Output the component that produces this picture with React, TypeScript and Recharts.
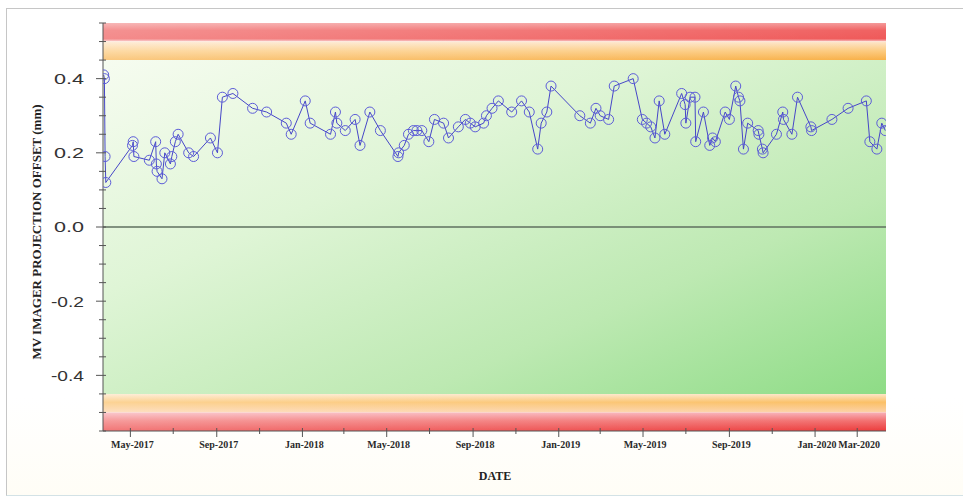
import React from 'react';
import {
  ComposedChart, Line, XAxis, YAxis, ReferenceArea, ReferenceLine,
} from 'recharts';

// ---- data ----
const dates: string[] = [
  '2017-03-24', '2017-03-25', '2017-03-26', '2017-03-27', '2017-05-04', '2017-05-05', '2017-05-06',
  '2017-05-28', '2017-06-06', '2017-06-07', '2017-06-08', '2017-06-15', '2017-06-19', '2017-06-27',
  '2017-06-29', '2017-07-04', '2017-07-08', '2017-07-23', '2017-07-30', '2017-08-23', '2017-09-02',
  '2017-09-09', '2017-09-24', '2017-10-22', '2017-11-11', '2017-12-09', '2017-12-16', '2018-01-05',
  '2018-01-12', '2018-02-10', '2018-02-17', '2018-02-19', '2018-03-03', '2018-03-17', '2018-03-24',
  '2018-04-07', '2018-04-22', '2018-05-17', '2018-05-18', '2018-05-26', '2018-06-01', '2018-06-08',
  '2018-06-13', '2018-06-20', '2018-06-30', '2018-07-08', '2018-07-21', '2018-07-28', '2018-08-11',
  '2018-08-21', '2018-08-28', '2018-09-04', '2018-09-16', '2018-09-20', '2018-09-28', '2018-10-07',
  '2018-10-26', '2018-11-09', '2018-11-20', '2018-12-02', '2018-12-07', '2018-12-15', '2018-12-21',
  '2019-01-31', '2019-02-15', '2019-02-23', '2019-03-01', '2019-03-13', '2019-03-21', '2019-04-17',
  '2019-04-30', '2019-05-06', '2019-05-12', '2019-05-18', '2019-05-24', '2019-06-01', '2019-06-25',
  '2019-06-30', '2019-07-01', '2019-07-07', '2019-07-14', '2019-07-15', '2019-07-26', '2019-08-04',
  '2019-08-08', '2019-08-12', '2019-08-26', '2019-09-01', '2019-09-10', '2019-09-14', '2019-09-16',
  '2019-09-21', '2019-09-27', '2019-10-12', '2019-10-13', '2019-10-18', '2019-10-19', '2019-11-07',
  '2019-11-16', '2019-11-17', '2019-11-29', '2019-12-07', '2019-12-26', '2019-12-27', '2020-01-25',
  '2020-02-17', '2020-03-14', '2020-03-19', '2020-03-29', '2020-04-05', '2020-04-10',
];

const offsets: number[] = [
  0.41, 0.40, 0.19, 0.12, 0.22, 0.23, 0.19,
  0.18, 0.23, 0.17, 0.15, 0.13, 0.20, 0.17,
  0.19, 0.23, 0.25, 0.20, 0.19, 0.24, 0.20,
  0.35, 0.36, 0.32, 0.31, 0.28, 0.25, 0.34,
  0.28, 0.25, 0.31, 0.28, 0.26, 0.29, 0.22,
  0.31, 0.26, 0.19, 0.20, 0.22, 0.25, 0.26,
  0.26, 0.26, 0.23, 0.29, 0.28, 0.24, 0.27,
  0.29, 0.28, 0.27, 0.28, 0.30, 0.32, 0.34,
  0.31, 0.34, 0.31, 0.21, 0.28, 0.31, 0.38,
  0.30, 0.28, 0.32, 0.30, 0.29, 0.38, 0.40,
  0.29, 0.28, 0.27, 0.24, 0.34, 0.25, 0.36,
  0.33, 0.28, 0.35, 0.35, 0.23, 0.31, 0.22,
  0.24, 0.23, 0.31, 0.29, 0.38, 0.35, 0.34,
  0.21, 0.28, 0.26, 0.25, 0.21, 0.20, 0.25,
  0.31, 0.29, 0.25, 0.35, 0.27, 0.26, 0.29,
  0.32, 0.34, 0.23, 0.21, 0.28, 0.26,
];

const xTickDates: string[] = [
  '2017-05-01', '2017-07-01', '2017-09-01', '2017-11-01', '2018-01-01', '2018-03-01',
  '2018-05-01', '2018-07-01', '2018-09-01', '2018-11-01', '2019-01-01', '2019-03-01',
  '2019-05-01', '2019-07-01', '2019-09-01', '2019-11-01', '2020-01-01', '2020-03-01',
];
const xTickLabels: string[] = [
  'May-2017', '', 'Sep-2017', '', 'Jan-2018', '',
  'May-2018', '', 'Sep-2018', '', 'Jan-2019', '',
  'May-2019', '', 'Sep-2019', '', 'Jan-2020', 'Mar-2020',
];
const xDomainDates: string[] = ['2017-03-23', '2020-04-11'];

const yTicks: number[] = [
  -0.55, -0.5, -0.45, -0.4, -0.35, -0.3, -0.25, -0.2, -0.15, -0.1, -0.05, 0,
  0.05, 0.1, 0.15, 0.2, 0.25, 0.3, 0.35, 0.4, 0.45, 0.5, 0.55,
];
const yLabelValues: number[] = [-0.4, -0.2, 0, 0.2, 0.4];
const yLabelTexts: string[] = ['-0.4', '-0.2', '0.0', '0.2', '0.4'];
const yDomain: number[] = [-0.55, 0.55];

const yTitle = 'MV IMAGER PROJECTION OFFSET (mm)';
const xTitle = 'DATE';

// ---- helpers ----
const toTs = (s: string) => {
  const [y, m, d] = s.split('-').map(Number);
  return Date.UTC(y, m - 1, d);
};
const data = dates.map((d, i) => ({ t: toTs(d), v: offsets[i] }));
const xTicks = xTickDates.map(toTs);
const xDomain = xDomainDates.map(toTs);

const xLabelFor = (v: number) => {
  const i = xTicks.findIndex((t) => t === v);
  return i >= 0 ? xTickLabels[i] : '';
};
const yLabelFor = (v: number) => {
  const i = yLabelValues.findIndex((t) => Math.abs(t - v) < 1e-6);
  return i >= 0 ? yLabelTexts[i] : '';
};

const XTick = (props: any) => {
  const { x, y, payload } = props;
  const lbl = xLabelFor(payload.value);
  return (
    <g>
      <line x1={x} x2={x} y1={y - 3} y2={y + (lbl ? 6 : 3)} stroke="#555" strokeWidth={1} />
      {lbl ? (
        <text x={x + 2} y={y + 17} textAnchor="middle" fontFamily="'Liberation Serif', 'Times New Roman', serif"
          fontWeight="bold" fontSize={10} fill="#2a2a2a">{lbl}</text>
      ) : null}
    </g>
  );
};

const YTick = (props: any) => {
  const { x, y, payload } = props;
  const lbl = yLabelFor(payload.value);
  return (
    <g>
      <line x1={x - (lbl ? 7 : 4)} x2={x + 3} y1={y} y2={y} stroke="#555" strokeWidth={1} />
      {lbl ? (
        <text x={x - 19} y={y} dy="0.36em" textAnchor="end" fontFamily="'Liberation Sans', Arial, sans-serif"
          fontSize={15} fill="#333" textLength={lbl.startsWith('-') ? 33 : 30}
          lengthAdjust="spacingAndGlyphs">{lbl}</text>
      ) : null}
    </g>
  );
};

const W = 963;
const H = 500;

export default function App() {
  return (
    <div style={{ position: 'absolute', left: 0, top: 0, width: W, height: H, background: '#ffffff', overflow: 'hidden' }}>
      <div style={{
        position: 'absolute', left: 6, top: 8, width: 990, height: 486,
        borderTop: '1px solid #c6c6c6', borderLeft: '1px solid #c6c6c6', borderBottom: '1px solid #d3e2e6',
        background: 'linear-gradient(180deg, #ffffff 0%, #ffffff 80%, #fffdf6 100%)',
      }} />
      <div style={{ position: 'absolute', left: 0, top: 0 }}>
        <ComposedChart width={W} height={H} data={data} margin={{ top: 23, right: 77, bottom: 0, left: 0 }}>
          <defs>
            <linearGradient id="gGreen" x1="0" y1="0" x2="1" y2="1">
              <stop offset="0%" stopColor="#f6fcf0" />
              <stop offset="35%" stopColor="#dff5d6" />
              <stop offset="70%" stopColor="#bde9b2" />
              <stop offset="100%" stopColor="#8edc86" />
            </linearGradient>
            <linearGradient id="gRedTop" x1="0" y1="0" x2="0" y2="1">
              <stop offset="0%" stopColor="#f49a9a" />
              <stop offset="40%" stopColor="#f06262" />
              <stop offset="85%" stopColor="#ef5a5a" />
              <stop offset="100%" stopColor="#f8c4c4" />
            </linearGradient>
            <linearGradient id="gOrTop" x1="0" y1="0" x2="0" y2="1">
              <stop offset="0%" stopColor="#fde6cc" />
              <stop offset="50%" stopColor="#fccb80" />
              <stop offset="100%" stopColor="#f8b048" />
            </linearGradient>
            <linearGradient id="gOrBot" x1="0" y1="0" x2="0" y2="1">
              <stop offset="0%" stopColor="#fde6c8" />
              <stop offset="45%" stopColor="#fbc066" />
              <stop offset="100%" stopColor="#fcd2a8" />
            </linearGradient>
            <linearGradient id="gRedBot" x1="0" y1="0" x2="0" y2="1">
              <stop offset="0%" stopColor="#f8b0b8" />
              <stop offset="45%" stopColor="#f27070" />
              <stop offset="100%" stopColor="#ec3c3c" />
            </linearGradient>
            <linearGradient id="gFade" x1="0" y1="0" x2="1" y2="0">
              <stop offset="0%" stopColor="#ffffff" stopOpacity={0.3} />
              <stop offset="100%" stopColor="#ffffff" stopOpacity={0} />
            </linearGradient>
          </defs>
          <XAxis xAxisId="b" dataKey="t" type="number" domain={xDomain} ticks={xTicks} interval={0}
            height={69} tickLine={false} tickSize={0} tickMargin={0} tick={<XTick />}
            axisLine={{ stroke: '#555', strokeWidth: 1 }} allowDataOverflow />
          <XAxis xAxisId="top" dataKey="t" type="number" orientation="top" mirror domain={xDomain} ticks={xTicks}
            interval={0} height={0} tick={false} tickSize={4} tickLine={{ stroke: '#666' }}
            axisLine={{ stroke: '#999' }} allowDataOverflow />
          <YAxis yAxisId="l" type="number" domain={yDomain} ticks={yTicks} interval={0} width={103}
            tickLine={false} tickSize={0} tickMargin={0} tick={<YTick />}
            axisLine={{ stroke: '#555', strokeWidth: 1 }} allowDataOverflow />
          <YAxis yAxisId="r" type="number" orientation="right" mirror domain={yDomain} width={0}
            tick={false} tickLine={false} axisLine={{ stroke: '#808080', strokeWidth: 1.5 }} allowDataOverflow />

          <ReferenceArea xAxisId="b" yAxisId="l" y1={-0.45} y2={0.45} fill="url(#gGreen)" fillOpacity={1} stroke="none" />
          <ReferenceArea xAxisId="b" yAxisId="l" y1={0.5} y2={0.55} fill="url(#gRedTop)" fillOpacity={1} stroke="none" />
          <ReferenceArea xAxisId="b" yAxisId="l" y1={0.45} y2={0.5} fill="url(#gOrTop)" fillOpacity={1} stroke="none" />
          <ReferenceArea xAxisId="b" yAxisId="l" y1={-0.5} y2={-0.45} fill="url(#gOrBot)" fillOpacity={1} stroke="none" />
          <ReferenceArea xAxisId="b" yAxisId="l" y1={-0.55} y2={-0.5} fill="url(#gRedBot)" fillOpacity={1} stroke="none" />
          <ReferenceArea xAxisId="b" yAxisId="l" y1={0.45} y2={0.55} fill="url(#gFade)" fillOpacity={1} stroke="none" />
          <ReferenceArea xAxisId="b" yAxisId="l" y1={-0.55} y2={-0.45} fill="url(#gFade)" fillOpacity={1} stroke="none" />
          <ReferenceLine xAxisId="b" yAxisId="l" y={0} stroke="#5f705f" strokeWidth={1.5} />

          <Line xAxisId="b" yAxisId="l" type="linear" dataKey="v" stroke="#4646c8" strokeWidth={1}
            dot={{ r: 5, stroke: '#5c5cd8', strokeWidth: 1, fill: 'none' }} activeDot={false}
            isAnimationActive={false} />
        </ComposedChart>
      </div>
      <svg width={W} height={H} style={{ position: 'absolute', left: 0, top: 0, pointerEvents: 'none' }}>
        <text transform="translate(36,232) rotate(-90)" textAnchor="middle" dy="0.35em"
          fontFamily="'Liberation Serif', 'Times New Roman', serif" fontWeight="bold" fontSize={13}
          fill="#222">{yTitle}</text>
        <text x={495} y={480} textAnchor="middle" fontFamily="'Liberation Serif', 'Times New Roman', serif"
          fontWeight="bold" fontSize={12} fill="#222">{xTitle}</text>
      </svg>
    </div>
  );
}
